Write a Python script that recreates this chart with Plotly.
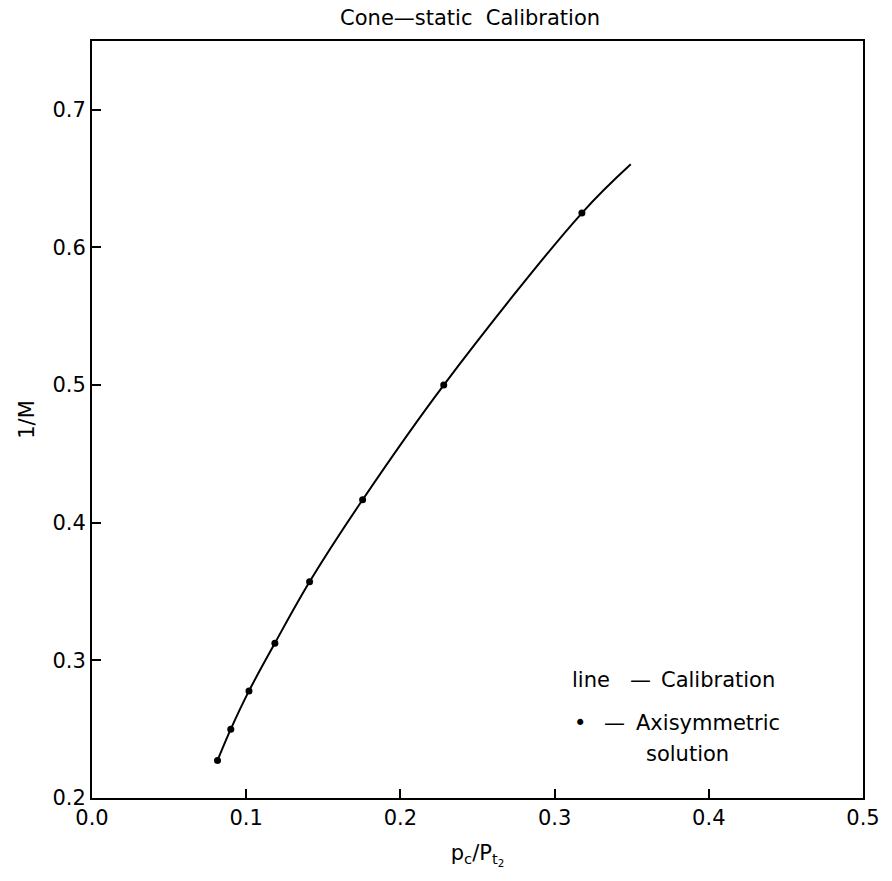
import plotly.graph_objects as go

# Axisymmetric solution points
pc_pt2_points = [0.0814, 0.0900, 0.1018, 0.1186, 0.1411, 0.1755, 0.2281, 0.3177]
inv_mach_points = [0.2273, 0.2500, 0.2778, 0.3125, 0.3571, 0.4167, 0.5000, 0.6250]

# Calibration curve
pc_pt2_line = [0.0814, 0.0900, 0.1018, 0.1186, 0.1411, 0.1755, 0.2281, 0.3177, 0.3494]
inv_mach_line = [0.2273, 0.2500, 0.2778, 0.3125, 0.3571, 0.4167, 0.5000, 0.6250, 0.6604]

x_ticks = [0.0, 0.1, 0.2, 0.3, 0.4, 0.5]
y_ticks = [0.2, 0.3, 0.4, 0.5, 0.6, 0.7]

FONT = "DejaVu Sans"
FS = 21

fig = go.Figure()
fig.add_trace(go.Scatter(x=pc_pt2_line, y=inv_mach_line, mode="lines",
                         line=dict(color="black", width=2, shape="spline", smoothing=1.0),
                         showlegend=False, hoverinfo="skip"))
fig.add_trace(go.Scatter(x=pc_pt2_points, y=inv_mach_points, mode="markers",
                         marker=dict(color="black", size=7, symbol="circle"),
                         showlegend=False))

axis_common = dict(showgrid=False, zeroline=False, showline=True, linecolor="black",
                   linewidth=2, mirror=True, ticks="inside", ticklen=9, tickwidth=1.5,
                   tickcolor="black", tickfont=dict(family=FONT, size=FS, color="black"))

fig.update_xaxes(range=[0.0, 0.5], tickvals=x_ticks, ticktext=[f"{v:.1f}" for v in x_ticks],
                 title=dict(text="p<sub>c</sub>/P<sub>t<sub>2</sub></sub>",
                            font=dict(family=FONT, size=FS, color="black"), standoff=16),
                 **axis_common)
fig.update_yaxes(range=[0.2, 0.75], tickvals=y_ticks, ticktext=[f"{v:.1f}" for v in y_ticks],
                 title=dict(text="1/M", font=dict(family=FONT, size=FS, color="black"), standoff=12),
                 **axis_common)

ann_font = dict(family=FONT, size=FS, color="black")
legend_parts = [
    ("line", 0.620, 0.156),
    ("—", 0.695, 0.156),
    ("Calibration", 0.736, 0.156),
    ("•", 0.622, 0.099),
    ("—", 0.662, 0.099),
    ("Axisymmetric", 0.703, 0.099),
    ("solution", 0.716, 0.058),
]
annotations = [dict(text=t, x=x, y=y, xref="paper", yref="paper", xanchor="left", yanchor="middle",
                    showarrow=False, font=ann_font) for t, x, y in legend_parts]

fig.update_layout(
    width=892, height=881,
    margin=dict(l=92, r=24, t=41, b=83),
    paper_bgcolor="white", plot_bgcolor="white",
    title=dict(text="Cone—static&nbsp;&nbsp;Calibration", x=0.527, xanchor="center", y=0.98, yanchor="middle",
               font=dict(family=FONT, size=FS, color="black")),
    annotations=annotations,
    showlegend=False,
)

fig.write_html("out.html")
